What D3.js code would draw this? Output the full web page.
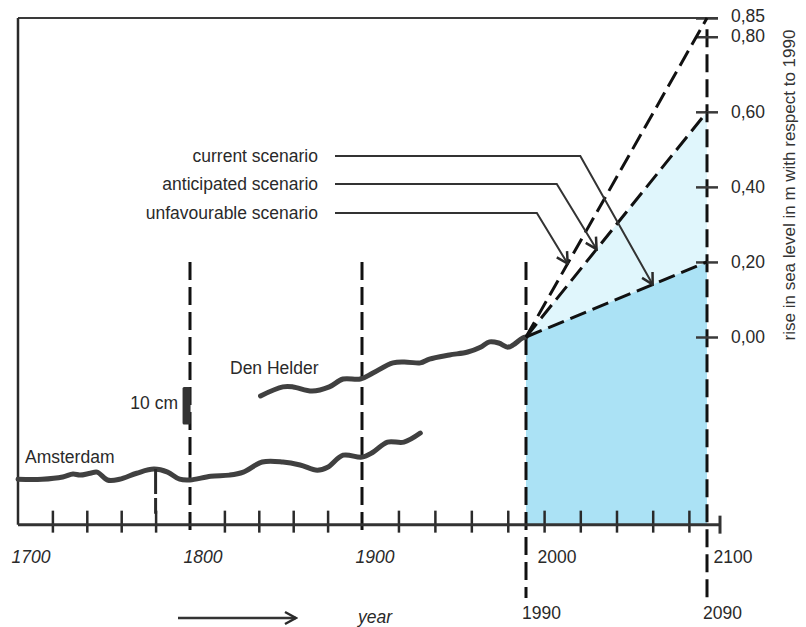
<!DOCTYPE html>
<html>
<head>
<meta charset="utf-8">
<script src="https://cdn.jsdelivr.net/npm/d3@7"></script>
<style>
    body { margin: 0; background: #fff; }
    svg text { font-family: "Liberation Sans", Arial, sans-serif; font-size: 17.5px; fill: #2a2a2a; }
</style>
</head>
<body>
<svg id="chart" width="806" height="627"></svg>
<script>
// tide gauge records, in m relative to 1990 (Amsterdam drawn shifted down as in the original)
var amsterdamYears = [1700, 1714, 1726, 1732, 1736, 1742, 1746, 1752, 1759, 1769, 1779, 1787, 1794, 1800,
    1812, 1823, 1831, 1842, 1854, 1864, 1874, 1880, 1889, 1900, 1906, 1914, 1923, 1932];
var amsterdamLevel = [-0.379, -0.379, -0.373, -0.365, -0.368, -0.363, -0.360, -0.381, -0.379, -0.363, -0.352, -0.360, -0.379, -0.381,
    -0.371, -0.368, -0.360, -0.333, -0.333, -0.341, -0.355, -0.347, -0.315, -0.320, -0.307, -0.280, -0.280, -0.256];
var denHelderYears = [1841, 1854, 1860, 1871, 1881, 1889, 1899, 1906, 1917, 1925, 1932, 1937, 1948, 1958,
    1965, 1970, 1975, 1980, 1983, 1988, 1990];
var denHelderLevel = [-0.157, -0.133, -0.133, -0.144, -0.133, -0.112, -0.112, -0.096, -0.069, -0.067, -0.069, -0.059, -0.048, -0.040,
    -0.027, -0.013, -0.016, -0.027, -0.021, -0.003, 0];

// scenarios: rise in 2090
var scenarioNames = ["current scenario", "anticipated scenario", "unfavourable scenario"];
var scenarioRise = [0.20, 0.60, 0.85];
var arrowBendYears = [2020, 2007, 1996];
var arrowTipYears = [2060, 2029, 2013];

var yearTicks = [1720, 1740, 1760, 1780, 1820, 1840, 1860, 1880, 1920, 1940, 1960, 1980, 2000, 2020, 2040, 2060, 2080];
var yearLabels = [1700, 1800, 1900, 2000, 2100];
var baseYears = [1990, 2090];
var dashedYears = [1800, 1900];
var riseTicks = [0, 0.2, 0.4, 0.6, 0.8, 0.85];

var svg = d3.select("#chart");

// hand drawn time axis: not quite linear, so piecewise
var x = d3.scaleLinear()
    .domain([1700, 1800, 1900, 1990, 2090, 2100])
    .range([18, 190, 362, 526, 707, 720]);
var y = d3.scaleLinear().domain([0, 0.85]).range([337, 18]);
var yBase = -0.5; // level of the time axis

var ink = "#2a2a2a";
var defs = svg.append("defs");
defs.append("marker")
    .attr("id", "head")
    .attr("markerUnits", "userSpaceOnUse")
    .attr("viewBox", "-14 -8 16 16")
    .attr("markerWidth", 16).attr("markerHeight", 16)
    .attr("orient", "auto")
    .append("path")
    .attr("d", "M-11,-6 L0,0 L-11,6")
    .attr("fill", "none").attr("stroke", ink).attr("stroke-width", 2.5);

function rise(i, yr) { return scenarioRise[i] * (yr - 1990) / 100; }

// blue areas
var area = d3.area().x(function(d) { return x(d.yr); })
    .y0(function(d) { return y(d.lo); }).y1(function(d) { return y(d.hi); });
svg.append("path")
    .attr("d", area(baseYears.map(function(yr) { return {yr: yr, lo: rise(1, yr), hi: rise(0, yr)}; })))
    .attr("fill", "#e0f6fc");
svg.append("path")
    .attr("d", area(baseYears.map(function(yr) { return {yr: yr, lo: yBase, hi: rise(0, yr)}; })))
    .attr("fill", "#abe2f5");

// frame
svg.append("line")
    .attr("x1", x(1700)).attr("x2", x(2090) + 11)
    .attr("y1", y(0.85)).attr("y2", y(0.85))
    .attr("stroke", "#3a3a3a").attr("stroke-width", 2);
svg.append("line")
    .attr("x1", x(1700)).attr("x2", x(1700))
    .attr("y1", y(0.85)).attr("y2", y(yBase))
    .attr("stroke", ink).attr("stroke-width", 2.5);

// dashed year markers
svg.selectAll(".vdash")
    .data(dashedYears)
    .enter().append("line")
    .attr("x1", function(d) { return x(d); }).attr("x2", function(d) { return x(d); })
    .attr("y1", y(0.2)).attr("y2", y(yBase) + 12)
    .attr("stroke", "#111").attr("stroke-width", 3).attr("stroke-dasharray", "18,7");
svg.append("line")
    .attr("x1", x(1990)).attr("x2", x(1990))
    .attr("y1", y(0.2)).attr("y2", 598)
    .attr("stroke", "#111").attr("stroke-width", 3).attr("stroke-dasharray", "18,7");
svg.append("line")
    .attr("x1", x(2090)).attr("x2", x(2090))
    .attr("y1", y(0.82)).attr("y2", 600)
    .attr("stroke", "#111").attr("stroke-width", 3).attr("stroke-dasharray", "18,7");

// time axis
var xAxis = svg.append("g")
    .attr("transform", "translate(0," + y(yBase) + ")")
    .call(d3.axisBottom(x).tickValues(yearTicks).tickSize(8).tickFormat(""));
xAxis.select(".domain").remove();
xAxis.selectAll(".tick line")
    .attr("y1", -14).attr("y2", 8)
    .attr("stroke", ink).attr("stroke-width", 2.5);
svg.append("line")
    .attr("x1", x(1700)).attr("x2", x(2100))
    .attr("y1", y(yBase)).attr("y2", y(yBase))
    .attr("stroke", "#333").attr("stroke-width", 3);
svg.append("line")
    .attr("x1", x(2100)).attr("x2", x(2100))
    .attr("y1", y(yBase) - 9).attr("y2", y(yBase) + 9)
    .attr("stroke", "#333").attr("stroke-width", 3);

var xLab = svg.append("g")
    .attr("transform", "translate(0," + y(yBase) + ")")
    .call(d3.axisBottom(x).tickValues(yearLabels).tickSize(0).tickFormat(d3.format("d")));
xLab.select(".domain").remove();
xLab.selectAll(".tick text")
    .attr("text-anchor", "start").attr("x", -7).attr("y", 38).attr("dy", 0)
    .style("font-style", function(d) { return d <= 1900 ? "italic" : "normal"; });

svg.selectAll(".baseLab")
    .data(baseYears)
    .enter().append("text")
    .attr("x", function(d) { return x(d) - 4; })
    .attr("y", 619)
    .text(function(d) { return d; });

// rise axis on the 2090 line
var yAxis = svg.append("g")
    .attr("transform", "translate(" + x(2090) + ",0)")
    .call(d3.axisRight(y).tickValues(riseTicks).tickSize(12).tickPadding(12)
        .tickFormat(function(d) { return d3.format(".2f")(d).replace(".", ","); }));
yAxis.select(".domain").remove();
yAxis.selectAll(".tick line")
    .attr("x1", -11).attr("x2", 11)
    .attr("stroke", "#3a3a3a").attr("stroke-width", 2.5);
// 0,85 and 0,80 sit close together: push them apart a little
yAxis.selectAll(".tick text").filter(function(d) { return d === 0.85; }).attr("y", -2);
yAxis.selectAll(".tick text").filter(function(d) { return d === 0.8; }).attr("y", -1);

svg.append("text")
    .attr("transform", "translate(795,185) rotate(-90)")
    .attr("text-anchor", "middle")
    .style("fill", "#333")
    .style("font-size", "17px")
    .text("rise in sea level in m with respect to 1990");

// tide gauge curves
var gauge = d3.line()
    .x(function(d) { return x(d[0]); })
    .y(function(d) { return y(d[1]); })
    .curve(d3.curveCatmullRom.alpha(0.5));
[[amsterdamYears, amsterdamLevel], [denHelderYears, denHelderLevel]].forEach(function(s) {
    svg.append("path")
        .datum(d3.zip(s[0], s[1]))
        .attr("d", gauge)
        .attr("fill", "none").attr("stroke", "#404040")
        .attr("stroke-width", 5).attr("stroke-linecap", "round").attr("stroke-linejoin", "round");
});
// small dashed drop from the Amsterdam curve at 1780
svg.append("line")
    .attr("x1", x(1780)).attr("x2", x(1780))
    .attr("y1", y(-0.352)).attr("y2", y(yBase) - 11)
    .attr("stroke", ink).attr("stroke-width", 3).attr("stroke-dasharray", "25,4,20");

svg.append("text").attr("x", 25).attr("y", 463).text("Amsterdam");
svg.append("text").attr("x", 230).attr("y", 374).text("Den Helder");

// 10 cm scale bar
svg.append("rect")
    .attr("x", x(1798) - 4).attr("width", 8)
    .attr("y", y(-0.133)).attr("height", y(-0.233) - y(-0.133))
    .attr("rx", 1.5)
    .attr("fill", "#333");
svg.append("text").attr("x", 178).attr("y", 409).attr("text-anchor", "end").text("10 cm");

// scenario lines
svg.selectAll(".scen")
    .data(scenarioRise)
    .enter().append("line")
    .attr("x1", x(1990)).attr("y1", y(0))
    .attr("x2", x(2090)).attr("y2", function(d) { return y(d); })
    .attr("stroke", "#111").attr("stroke-width", 3).attr("stroke-dasharray", "17,7");

// scenario labels with arrows
var labelY = [156, 184, 213];
scenarioNames.forEach(function(name, i) {
    svg.append("text")
        .attr("x", 318).attr("y", labelY[i] + 6)
        .attr("text-anchor", "end")
        .text(name);
    svg.append("path")
        .attr("d", "M335," + labelY[i] + " H" + x(arrowBendYears[i]) +
            " L" + x(arrowTipYears[i]) + "," + y(rise(i, arrowTipYears[i])))
        .attr("fill", "none").attr("stroke", "#333").attr("stroke-width", 2)
        .attr("marker-end", "url(#head)");
});

// year arrow
svg.append("line")
    .attr("x1", 178).attr("x2", 296).attr("y1", 618).attr("y2", 618)
    .attr("stroke", "#333").attr("stroke-width", 2.5)
    .attr("marker-end", "url(#head)");
svg.append("text").attr("x", 358).attr("y", 623).style("font-style", "italic").text("year");
</script>
</body>
</html>
